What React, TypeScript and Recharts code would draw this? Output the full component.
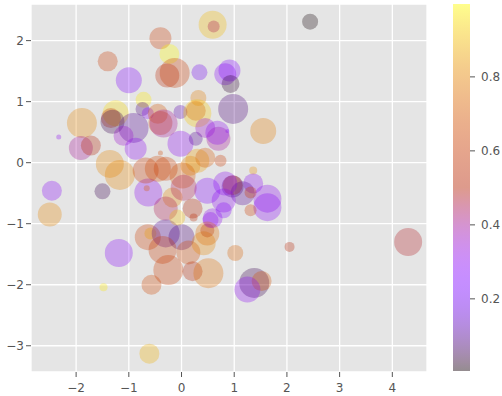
import {
  ScatterChart, Scatter, XAxis, YAxis, ZAxis, CartesianGrid, Cell,
  BarChart, Bar,
} from "recharts";

// bubble positions, marker areas (pt^2) and colour values
const xs = [
  0.59, 0.61, -0.4, -0.23, -1.4, -0.27, -0.13, -1.0, 0.34, 0.91,
  0.83, 0.93, 0.98, 2.44, 1.55, -0.72, -1.89, -1.25, -1.34, -1.31,
  -0.74, -0.64, -0.02, 0.27, 0.32, 0.3, -0.91, -1.1, -0.87, -1.91,
  -1.72, -1.36, -1.17, -0.4, -0.45, -0.4, -2.33, -1.5, -2.46, -2.5,
  -0.63, -0.68, -0.45, -0.66, -0.17, -0.3, -1.19, -1.48, -0.57, -0.61,
  -0.64, -0.59, -0.3, 0.0, -0.36, -0.25, 0.13, 0.21, 0.51, 0.42,
  0.49, -0.08, 0.55, 0.8, 0.23, 1.02, 2.05, 4.3, 1.38, 1.52,
  1.25, 1.63, 1.63, 1.36, 1.36, 0.97, 0.97, 1.16, 1.31, 1.31,
  0.59, 0.7, -0.02, 0.45, 0.68, 0.27, -0.34, 0.3, 0.45, 0.74,
  0.17, 0.02, -0.3, 0.83, 0.49, 0.8, 0.21, 0.04, 0.49, 0.87,
];
const ys = [
  2.26, 2.23, 2.04, 1.78, 1.66, 1.43, 1.47, 1.35, 1.48, 1.51,
  1.45, 1.29, 0.88, 2.31, 0.52, 1.03, 0.65, 0.81, 0.73, 0.67,
  0.88, 0.81, 0.83, 0.85, 1.06, 0.81, 0.57, 0.44, 0.23, 0.24,
  0.28, -0.02, -0.2, 0.65, 0.8, 0.16, 0.42, -0.47, -0.46, -0.85,
  -0.49, -0.13, -0.1, -0.42, -0.57, -0.75, -1.48, -2.04, -2.0, -3.13,
  -1.22, -1.16, -1.16, -1.22, -1.43, -1.76, -1.47, -1.78, -1.81, -1.32,
  -1.11, -0.9, -0.94, -0.78, -0.9, -1.48, -1.38, -1.3, -1.97, -1.94,
  -2.08, -0.59, -0.73, -0.13, -0.34, -0.39, -0.37, -0.5, -0.49, -0.78,
  -0.91, 0.39, 0.31, 0.57, 0.49, 0.39, 0.64, 0.03, 0.08, 0.03,
  -0.05, -0.21, -0.1, -0.34, -0.46, -0.62, -0.75, -0.41, -1.16, 0.52,
];
const sizes = [
  784, 144, 484, 400, 400, 576, 900, 676, 256, 484,
  484, 324, 900, 256, 676, 256, 900, 676, 400, 576,
  196, 144, 196, 400, 256, 784, 900, 400, 484, 576,
  400, 784, 900, 576, 400, 25, 25, 256, 400, 576,
  784, 676, 676, 36, 400, 576, 784, 64, 400, 400,
  676, 144, 784, 676, 784, 900, 576, 400, 900, 576,
  196, 256, 256, 256, 64, 256, 100, 784, 900, 400,
  676, 784, 784, 64, 400, 484, 400, 576, 144, 144,
  400, 576, 676, 400, 576, 196, 784, 576, 400, 144,
  400, 676, 576, 576, 676, 576, 400, 676, 576, 16,
];
const colors = [
  0.9, 0.45, 0.6, 0.997, 0.6, 0.52, 0.6, 0.25, 0.2, 0.25,
  0.28, 0.03, 0.08, 0.005, 0.78, 0.97, 0.8, 0.95, 0.58, 0.05,
  0.08, 0.28, 0.12, 0.62, 0.78, 0.92, 0.1, 0.35, 0.3, 0.4,
  0.5, 0.8, 0.8, 0.62, 0.7, 0.65, 0.3, 0.05, 0.28, 0.8,
  0.3, 0.6, 0.65, 0.7, 0.8, 0.45, 0.28, 0.97, 0.65, 0.88,
  0.62, 0.85, 0.1, 0.08, 0.6, 0.62, 0.65, 0.5, 0.75, 0.8,
  0.5, 0.9, 0.3, 0.25, 0.55, 0.72, 0.5, 0.48, 0.05, 0.68,
  0.3, 0.3, 0.28, 0.82, 0.3, 0.08, 0.5, 0.1, 0.6, 0.62,
  0.3, 0.4, 0.3, 0.35, 0.3, 0.1, 0.4, 0.85, 0.7, 0.6,
  0.8, 0.7, 0.62, 0.3, 0.25, 0.3, 0.5, 0.45, 0.75, 0.3,
];

const xTicks = [-2, -1, 0, 1, 2, 3, 4];
const yTicks = [-3, -2, -1, 0, 1, 2];
const cbarTicks = [0.2, 0.4, 0.6, 0.8];

const points = xs.map((x, i) => ({ x, y: ys[i], s: sizes[i], c: colors[i] }));
const cMin = Math.min(...colors);
const cMax = Math.max(...colors);
const cbarData = [{ name: "c", range: [cMin, cMax] }];

// matplotlib "gnuplot" colormap
function gnuplot(t: number) {
  const r = Math.sqrt(t);
  const g = t * t * t;
  const b = Math.max(0, Math.sin(2 * Math.PI * t));
  return `rgb(${Math.round(r * 255)},${Math.round(g * 255)},${Math.round(b * 255)})`;
}

const minus = (v: number) => (v < 0 ? `\u2212${Math.abs(v)}` : `${v}`);
const font = "DejaVu Sans, sans-serif";
const tickStyle = { fill: "#555", fontSize: 12, fontFamily: font };

export default function App() {
  const stops = Array.from({ length: 41 }, (_, i) => i / 40);
  return (
    <div style={{ position: "absolute", left: 0, top: 0, width: 502, height: 396, background: "#fff" }}>
      <div style={{ position: "absolute", left: 0, top: 0 }}>
        <ScatterChart width={440} height={396} margin={{ top: 4, right: 13, bottom: 0, left: 0 }}>
          <CartesianGrid fill="#E5E5E5" stroke="#fff" strokeWidth={1.3} />
          <XAxis
            type="number" dataKey="x" domain={[-2.856, 4.658]} ticks={xTicks} allowDataOverflow
            height={24} axisLine={false} tickLine={{ stroke: "#555" }} tickSize={5} tickMargin={6}
            tick={tickStyle} tickFormatter={minus}
          />
          <YAxis
            type="number" dataKey="y" domain={[-3.43, 2.6]} ticks={yTicks} allowDataOverflow
            width={31} axisLine={false} tickLine={{ stroke: "#555" }} tickSize={5} tickMargin={2}
            tick={tickStyle} tickFormatter={minus}
          />
          <ZAxis type="number" dataKey="s" domain={[0, 1000]} range={[0, (Math.PI * 1000) / 4]} />
          <Scatter data={points} isAnimationActive={false} shape="circle">
            {points.map((p, i) => (
              <Cell key={i} fill={gnuplot(p.c)} fillOpacity={0.3} />
            ))}
          </Scatter>
        </ScatterChart>
      </div>
      <div style={{ position: "absolute", left: 440, top: 0 }}>
        <BarChart
          width={62} height={396} data={cbarData} barCategoryGap={0}
          margin={{ top: 4, right: 0, bottom: 25, left: 13 }}
        >
          <defs>
            <linearGradient id="cbar" x1="0" y1="1" x2="0" y2="0">
              {stops.map((t) => (
                <stop key={t} offset={t} stopColor={gnuplot(cMin + t * (cMax - cMin))} stopOpacity={0.45} />
              ))}
            </linearGradient>
          </defs>
          <XAxis dataKey="name" hide />
          <YAxis
            type="number" orientation="right" domain={[cMin, cMax]} ticks={cbarTicks} allowDataOverflow
            width={32} axisLine={false} tickLine={{ stroke: "#555" }} tickSize={5} tickMargin={6}
            tick={tickStyle} tickFormatter={(v: number) => v.toFixed(1)}
          />
          <Bar dataKey="range" fill="url(#cbar)" isAnimationActive={false} />
        </BarChart>
      </div>
    </div>
  );
}
